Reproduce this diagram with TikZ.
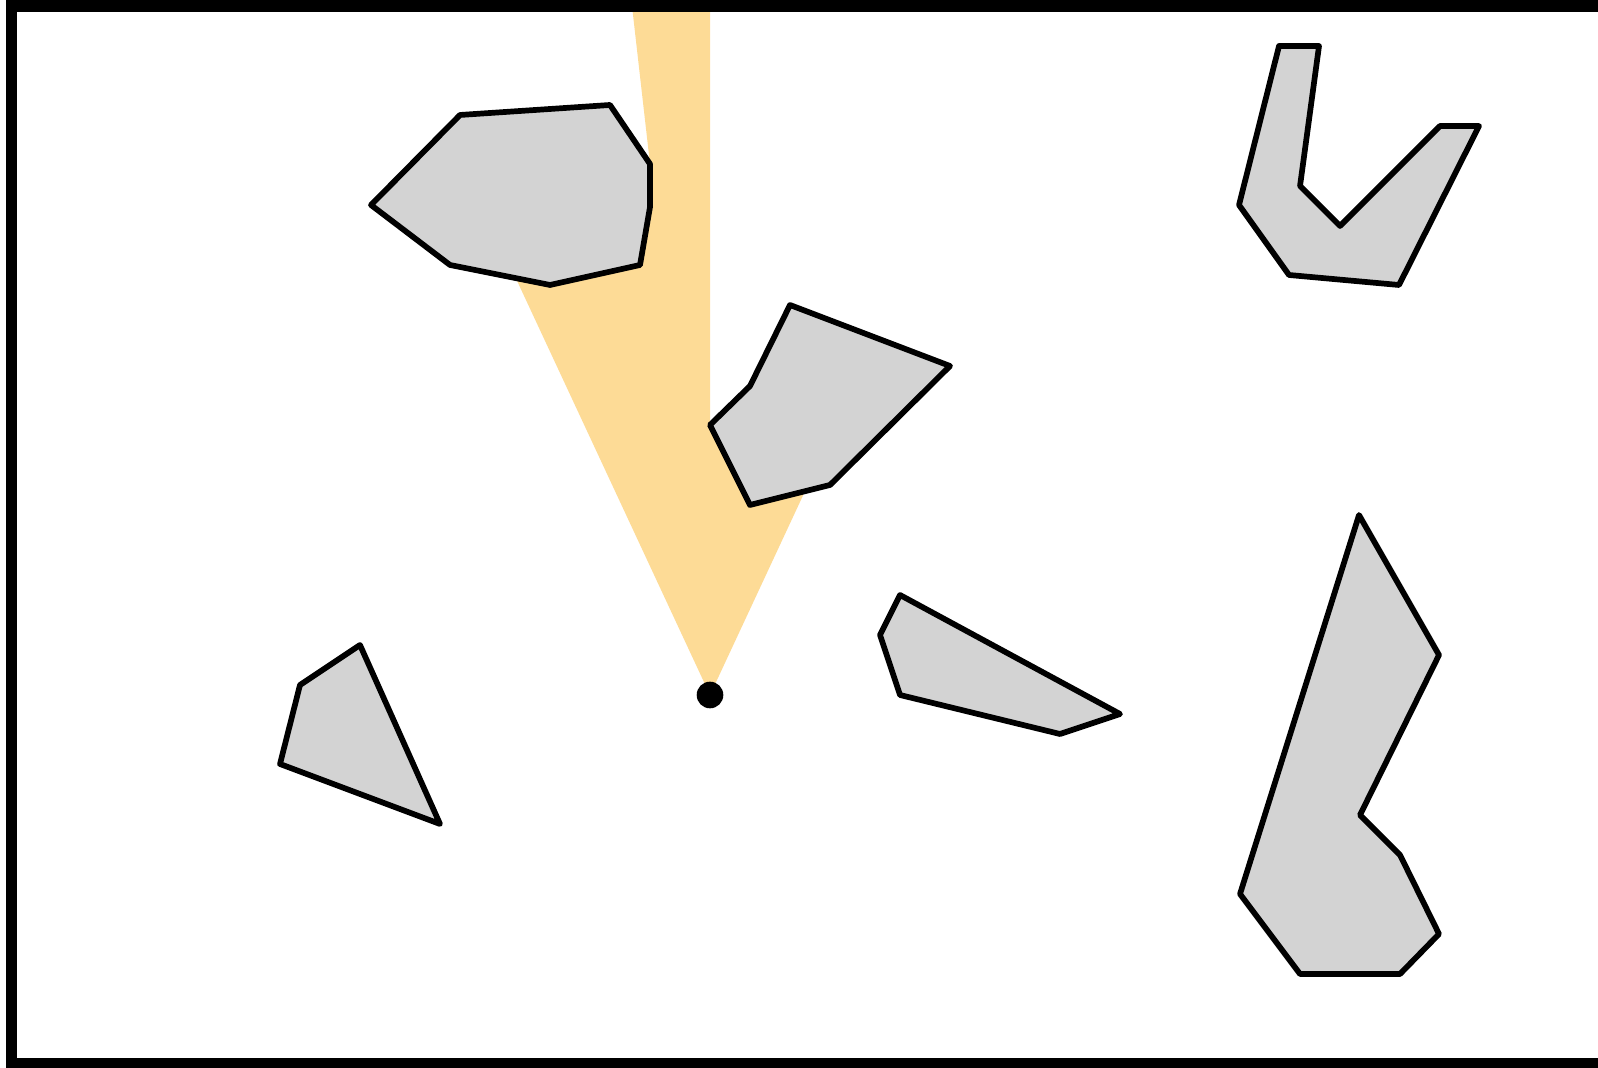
\documentclass[tikz,border=0pt]{standalone}
\definecolor{lightcone}{HTML}{FDDB96}
\definecolor{obst}{HTML}{D3D3D3}
\begin{document}
\begin{tikzpicture}[x=0.01cm,y=-0.01cm,
  obstacle/.style={fill=obst,draw=black,line width=0.057cm,line join=round},
  framebox/.style={draw=black,line width=0.118cm}]
\useasboundingbox (0,0) rectangle (1598,1068);
\clip (0,0) rectangle (1598,1068);
\coordinate (eye) at (710,695);
% visible region of the viewing cone
\fill[lightcone] (eye) -- (515.8,278.2) -- (550,285) -- (640,265) -- (650,207) -- (650,164)
  -- (631.3,0) -- (710,0) -- (710,425) -- (750,505) -- (805,491.2) -- cycle;
% obstacles
\draw[obstacle] (371,205) -- (460,115) -- (610,105) -- (650,164) -- (650,207) -- (640,265) -- (550,285) -- (450,265) -- cycle;
\draw[obstacle] (1279,46) -- (1319,46) -- (1300,186) -- (1340,226) -- (1440,126) -- (1479,126) -- (1399,285) -- (1289,275) -- (1239,205) -- cycle;
\draw[obstacle] (790,305) -- (950,366) -- (830,485) -- (750,505) -- (710,425) -- (750,386) -- cycle;
\draw[obstacle] (360,645) -- (440,824) -- (280,764) -- (300,685) -- cycle;
\draw[obstacle] (900,595) -- (1120,714) -- (1060,734) -- (900,695) -- (880,635) -- cycle;
\draw[obstacle] (1359,515) -- (1439,655) -- (1360,815) -- (1400,855) -- (1439,934) -- (1400,974) -- (1300,974) -- (1240,894) -- cycle;
% viewer
\fill[black] (eye) circle[radius=0.133cm];
% frame
\draw[framebox] (11.5,6.2) rectangle (1660,1063.7);
\end{tikzpicture}
\end{document}
